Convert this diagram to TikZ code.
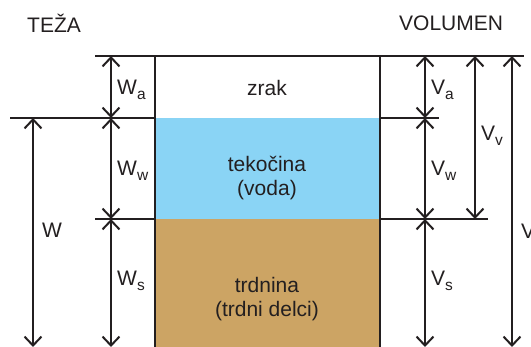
\documentclass[tikz,border=0pt]{standalone}
\usepackage{fontspec}
\setmainfont{Liberation Sans}
\usetikzlibrary{arrows.meta}
\definecolor{water}{RGB}{138,212,245}
\definecolor{soil}{RGB}{204,164,100}
\definecolor{ink}{RGB}{35,31,32}
\newcommand{\mysub}[1]{\raisebox{-5.5pt}{\fontsize{15.5}{17}\selectfont #1}}
\tikzset{
  ln/.style={line width=2pt, draw=ink},
  dim/.style={line width=2pt, draw=ink, {Straight Barb[length=9pt,width=17pt,line width=2pt]}-{Straight Barb[length=9pt,width=17pt,line width=2pt]}},
  lbl/.style={font=\fontsize{21}{23}\selectfont, text=ink, inner sep=0pt},
}
\begin{document}
\begin{tikzpicture}[x=1pt,y=-1pt]
\useasboundingbox (0,0) rectangle (531,347);
\clip (0,0) rectangle (531,347);
% fills
\fill[water] (155,118) rectangle (380,219);
\fill[soil] (155,219) rectangle (380,360);
% coordinates
\coordinate (tl) at (95,56);
\coordinate (tr) at (524,56);
\coordinate (bl) at (155,56);
\coordinate (br) at (380,56);
\coordinate (bld) at (155,360);
\coordinate (brd) at (380,360);
\coordinate (m1l) at (10,118);
\coordinate (m1b) at (155,118);
\coordinate (m1r) at (380,118);
\coordinate (m1e) at (439,118);
\coordinate (m2l) at (95,219);
\coordinate (m2b) at (155,219);
\coordinate (m2r) at (380,219);
\coordinate (m2e) at (488,219);
% lines
\draw[ln] (tl) -- (tr);
\draw[ln] (bl) -- (bld);
\draw[ln] (br) -- (brd);
\draw[ln] (m1l) -- (m1b);
\draw[ln] (m1r) -- (m1e);
\draw[ln] (m2l) -- (m2b);
\draw[ln] (m2r) -- (m2e);
% left dimension arrows
\coordinate (wa1) at (111,56);
\coordinate (wa2) at (111,118);
\coordinate (ww2) at (111,219);
\coordinate (ws2) at (111,347);
\coordinate (w1) at (33,118);
\coordinate (w2) at (33,347);
\draw[dim] (wa1) -- (wa2);
\draw[dim] (wa2) -- (ww2);
\draw[dim] (ww2) -- (ws2);
\draw[dim] (w1) -- (w2);
% right dimension arrows
\coordinate (va1) at (425,56);
\coordinate (va2) at (425,118);
\coordinate (vw2) at (425,219);
\coordinate (vs2) at (425,347);
\coordinate (vv1) at (475,56);
\coordinate (vv2) at (475,219);
\coordinate (v1) at (512,56);
\coordinate (v2) at (512,347);
\draw[dim] (va1) -- (va2);
\draw[dim] (va2) -- (vw2);
\draw[dim] (vw2) -- (vs2);
\draw[dim] (vv1) -- (vv2);
\draw[dim] (v1) -- (v2);
% titles
\node[lbl, anchor=west] (teza) at (27,23) {TEŽA};
\node[lbl, anchor=west] (vol) at (399,23) {VOLUMEN};
% content labels
\node[lbl] (zrak) at (267,88) {zrak};
\node[lbl] (tek) at (267,164) {tekočina};
\node[lbl] (voda) at (267,190) {(voda)};
\node[lbl] (trd) at (267,285) {trdnina};
\node[lbl] (delci) at (267,311) {(trdni delci)};
% dimension labels
\node[lbl, anchor=west] (Wa) at (117,90) {W\mysub{a}};
\node[lbl, anchor=west] (Ww) at (117,171) {W\mysub{w}};
\node[lbl, anchor=west] (Ws) at (117,281) {W\mysub{s}};
\node[lbl, anchor=west] (W) at (42,230) {W};
\node[lbl, anchor=west] (Va) at (431,90) {V\mysub{a}};
\node[lbl, anchor=west] (Vw) at (431,171) {V\mysub{w}};
\node[lbl, anchor=west] (Vs) at (431,281) {V\mysub{s}};
\node[lbl, anchor=west] (Vv) at (481,136) {V\mysub{v}};
\node[lbl, anchor=west] (V) at (521,231) {V};
\end{tikzpicture}
\end{document}
